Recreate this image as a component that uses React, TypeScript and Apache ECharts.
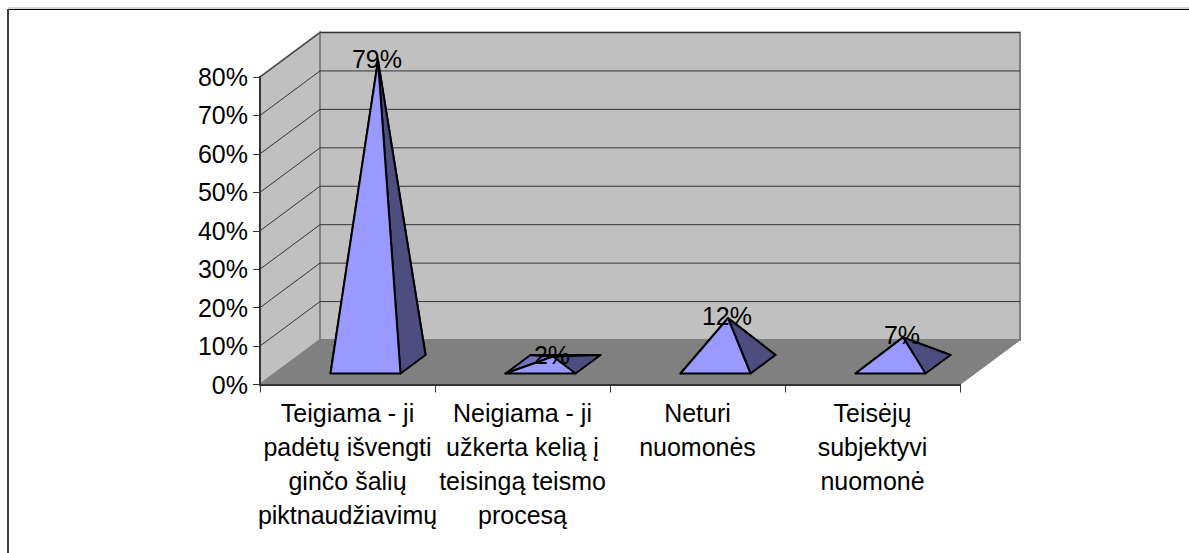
import React, { useEffect, useRef } from "react";
import * as echarts from "echarts";

const categories = [
  "Teigiama - ji\npadėtų išvengti\nginčo šalių\npiktnaudžiavimų",
  "Neigiama - ji\nužkerta kelią į\nteisingą teismo\nprocesą",
  "Neturi\nnuomonės",
  "Teisėjų\nsubjektyvi\nnuomonė",
];
const values = [79, 2, 12, 7];
const gridTicks = [10, 20, 30, 40, 50, 60, 70, 80];

const FONT = '"Liberation Sans", Arial, sans-serif';
const DX = 60;
const DY = -44.5;
const BASE_W = 70;
const BASE_SHIFT = 18;
const BASE_Y = -11;
const PYR_DX = 25;
const PYR_DY = -18.5;

export default function App() {
  const ref = useRef<HTMLDivElement>(null);
  useEffect(() => {
    const chart = echarts.init(ref.current!, undefined, { renderer: "svg" });
    chart.setOption({
      animation: false,
      backgroundColor: "#ffffff",
      textStyle: { fontFamily: FONT },
      graphic: [
        { type: "line", shape: { x1: 8, y1: 8, x2: 1189, y2: 8 }, style: { stroke: "#a6a6a6", lineWidth: 1 }, silent: true },
        { type: "line", shape: { x1: 8, y1: 9.5, x2: 1189, y2: 9.5 }, style: { stroke: "#000000", lineWidth: 1 }, silent: true },
        { type: "line", shape: { x1: 8, y1: 9, x2: 8, y2: 553 }, style: { stroke: "#404040", lineWidth: 2 }, silent: true },
      ],
      grid: { left: 260, right: 229, top: 77, bottom: 168.5, containLabel: false },
      xAxis: {
        type: "category",
        data: categories,
        z: 5,
        axisLine: { lineStyle: { color: "#333333", width: 2 } },
        axisTick: { show: true, length: 8, lineStyle: { color: "#333333", width: 1 } },
        axisLabel: { interval: 0, color: "#000", fontSize: 25, fontFamily: FONT, lineHeight: 34, margin: 11 },
        splitLine: { show: false },
      },
      yAxis: {
        type: "value",
        min: 0,
        max: 80,
        interval: 10,
        z: 5,
        axisLine: { show: true, lineStyle: { color: "#333333", width: 2 } },
        axisTick: { show: true, length: 7, lineStyle: { color: "#333333", width: 1 } },
        axisLabel: { color: "#000", fontSize: 25, fontFamily: FONT, margin: 12, formatter: "{value}%" },
        splitLine: { show: false },
      },
      series: [
        {
          type: "custom",
          coordinateSystem: "cartesian2d",
          z: 1,
          silent: true,
          data: [[0, 0]],
          encode: { x: 0, y: 1 },
          renderItem: (_p: any, api: any) => {
            const n = categories.length;
            const leftBottom = api.coord([0, 0]);
            const size = api.size([1, 80]);
            const xL = leftBottom[0] - size[0] / 2;
            const xR = xL + size[0] * n;
            const yB = leftBottom[1];
            const yT = yB - size[1];
            return {
              type: "group",
              children: [
                {
                  type: "polygon",
                  shape: { points: [[xL + DX, yT + DY], [xR + DX, yT + DY], [xR + DX, yB + DY], [xL + DX, yB + DY]] },
                  style: { fill: "#c0c0c0", stroke: "#808080", lineWidth: 2 },
                },
                {
                  type: "polygon",
                  shape: { points: [[xL, yT], [xL + DX, yT + DY], [xL + DX, yB + DY], [xL, yB]] },
                  style: { fill: "#c0c0c0", stroke: "#808080", lineWidth: 2 },
                },
                {
                  type: "polygon",
                  shape: { points: [[xL, yB], [xL + DX, yB + DY], [xR + DX, yB + DY], [xR, yB]] },
                  style: { fill: "#808080", stroke: "#808080", lineWidth: 1 },
                },
              ],
            };
          },
        },
        {
          type: "custom",
          coordinateSystem: "cartesian2d",
          z: 2,
          silent: true,
          data: gridTicks.map((t) => [0, t]),
          encode: { x: 0, y: 1 },
          renderItem: (_p: any, api: any) => {
            const c = api.coord([0, api.value(1)]);
            const w = api.size([1, 0])[0];
            const xL = c[0] - w / 2;
            const xR = xL + w * categories.length;
            const y = c[1];
            const st = { stroke: "#333333", lineWidth: 1, fill: "none" };
            return {
              type: "group",
              children: [
                { type: "line", shape: { x1: xL, y1: y, x2: xL + DX, y2: y + DY }, style: st },
                { type: "line", shape: { x1: xL + DX, y1: y + DY, x2: xR + DX, y2: y + DY }, style: st },
              ],
            };
          },
        },
        {
          type: "custom",
          coordinateSystem: "cartesian2d",
          z: 3,
          silent: true,
          data: values.map((v, i) => [i, v]),
          encode: { x: 0, y: 1 },
          renderItem: (_p: any, api: any) => {
            const i = api.value(0);
            const v = api.value(1);
            const base = api.coord([i, 0]);
            const top = api.coord([i, v]);
            const h = base[1] - top[1];
            const cx = base[0] + BASE_SHIFT;
            const yF = base[1] + BASE_Y;
            const fl = [cx - BASE_W / 2, yF];
            const fr = [cx + BASE_W / 2, yF];
            const bl = [fl[0] + PYR_DX, yF + PYR_DY];
            const br = [fr[0] + PYR_DX, yF + PYR_DY];
            const apex = [cx + PYR_DX / 2, yF + PYR_DY / 2 - h];
            const line = { stroke: "#000000", lineWidth: 2, lineJoin: "round" };
            return {
              type: "group",
              children: [
                { type: "polygon", shape: { points: [fl, bl, apex] }, style: { fill: "#7373bf", ...line } },
                { type: "polygon", shape: { points: [bl, br, apex] }, style: { fill: "#4d4d80", ...line } },
                { type: "polygon", shape: { points: [fr, br, apex] }, style: { fill: "#4d4d80", ...line } },
                { type: "polygon", shape: { points: [fl, fr, apex] }, style: { fill: "#9999ff", ...line } },
                {
                  type: "text",
                  z2: 10,
                  style: {
                    text: v + "%",
                    x: apex[0] - 1,
                    y: apex[1] - 2,
                    fill: "#000000",
                    font: `25px ${FONT}`,
                    align: "center",
                    verticalAlign: "middle",
                  },
                },
              ],
            };
          },
        },
      ],
    });
    return () => chart.dispose();
  }, []);
  return <div ref={ref} style={{ position: "fixed", left: 0, top: 0, width: 1189, height: 553 }} />;
}
